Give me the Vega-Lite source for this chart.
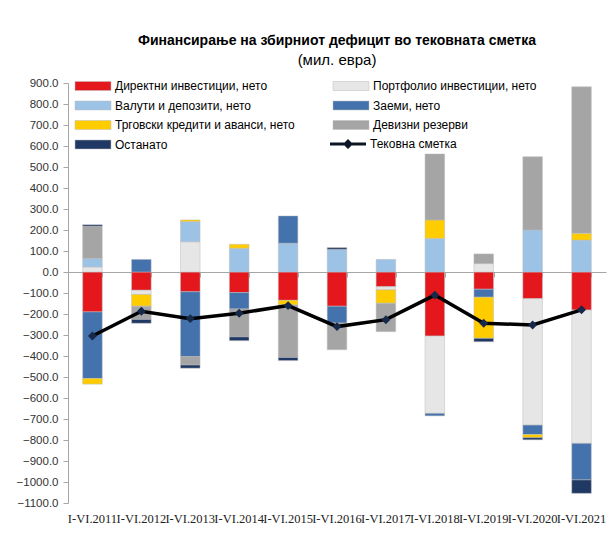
{
  "$schema": "https://vega.github.io/schema/vega-lite/v6.json",
  "width": 538,
  "height": 420,
  "autosize": "none",
  "padding": {"left": 68, "top": 83, "right": 4, "bottom": 53},
  "background": "white",
  "config": {"view": {"stroke": null}, "font": "Liberation Sans"},
  "title": {
    "text": "Финансирање  на збирниот дефицит во тековната сметка",
    "subtitle": "(мил. евра)",
    "anchor": "middle",
    "frame": "group",
    "font": "Liberation Sans",
    "fontSize": 14,
    "fontWeight": "bold",
    "color": "#000000",
    "subtitleFont": "Liberation Sans",
    "subtitleFontSize": 15,
    "subtitleColor": "#000000",
    "subtitlePadding": 5,
    "offset": 9
  },
  "datasets": {
    "fin": [
      {"year": "I-VI.2011", "series": "Директни инвестиции, нето", "value": -190},
      {"year": "I-VI.2011", "series": "Портфолио инвестиции, нето", "value": 24},
      {"year": "I-VI.2011", "series": "Валути и депозити, нето", "value": 40},
      {"year": "I-VI.2011", "series": "Заеми, нето", "value": -317},
      {"year": "I-VI.2011", "series": "Трговски кредити и аванси, нето", "value": -27},
      {"year": "I-VI.2011", "series": "Девизни резерви", "value": 154},
      {"year": "I-VI.2011", "series": "Останато", "value": 7},
      {"year": "I-VI.2012", "series": "Директни инвестиции, нето", "value": -87},
      {"year": "I-VI.2012", "series": "Портфолио инвестиции, нето", "value": -20},
      {"year": "I-VI.2012", "series": "Заеми, нето", "value": 60},
      {"year": "I-VI.2012", "series": "Трговски кредити и аванси, нето", "value": -56},
      {"year": "I-VI.2012", "series": "Девизни резерви", "value": -63},
      {"year": "I-VI.2012", "series": "Останато", "value": -18},
      {"year": "I-VI.2013", "series": "Директни инвестиции, нето", "value": -94},
      {"year": "I-VI.2013", "series": "Портфолио инвестиции, нето", "value": 144},
      {"year": "I-VI.2013", "series": "Валути и депозити, нето", "value": 96},
      {"year": "I-VI.2013", "series": "Заеми, нето", "value": -309},
      {"year": "I-VI.2013", "series": "Трговски кредити и аванси, нето", "value": 8},
      {"year": "I-VI.2013", "series": "Девизни резерви", "value": -40},
      {"year": "I-VI.2013", "series": "Останато", "value": -15},
      {"year": "I-VI.2014", "series": "Директни инвестиции, нето", "value": -98},
      {"year": "I-VI.2014", "series": "Валути и депозити, нето", "value": 113},
      {"year": "I-VI.2014", "series": "Заеми, нето", "value": -78},
      {"year": "I-VI.2014", "series": "Трговски кредити и аванси, нето", "value": 19},
      {"year": "I-VI.2014", "series": "Девизни резерви", "value": -133},
      {"year": "I-VI.2014", "series": "Останато", "value": -18},
      {"year": "I-VI.2015", "series": "Директни инвестиции, нето", "value": -135},
      {"year": "I-VI.2015", "series": "Валути и депозити, нето", "value": 137},
      {"year": "I-VI.2015", "series": "Заеми, нето", "value": 130},
      {"year": "I-VI.2015", "series": "Трговски кредити и аванси, нето", "value": -22},
      {"year": "I-VI.2015", "series": "Девизни резерви", "value": -250},
      {"year": "I-VI.2015", "series": "Останато", "value": -15},
      {"year": "I-VI.2016", "series": "Директни инвестиции, нето", "value": -163},
      {"year": "I-VI.2016", "series": "Валути и депозити, нето", "value": 108},
      {"year": "I-VI.2016", "series": "Заеми, нето", "value": -80},
      {"year": "I-VI.2016", "series": "Девизни резерви", "value": -127},
      {"year": "I-VI.2016", "series": "Останато", "value": 8},
      {"year": "I-VI.2017", "series": "Директни инвестиции, нето", "value": -70},
      {"year": "I-VI.2017", "series": "Портфолио инвестиции, нето", "value": -15},
      {"year": "I-VI.2017", "series": "Валути и депозити, нето", "value": 60},
      {"year": "I-VI.2017", "series": "Трговски кредити и аванси, нето", "value": -64},
      {"year": "I-VI.2017", "series": "Девизни резерви", "value": -135},
      {"year": "I-VI.2018", "series": "Директни инвестиции, нето", "value": -305},
      {"year": "I-VI.2018", "series": "Портфолио инвестиции, нето", "value": -368},
      {"year": "I-VI.2018", "series": "Валути и депозити, нето", "value": 160},
      {"year": "I-VI.2018", "series": "Заеми, нето", "value": -12},
      {"year": "I-VI.2018", "series": "Трговски кредити и аванси, нето", "value": 88},
      {"year": "I-VI.2018", "series": "Девизни резерви", "value": 314},
      {"year": "I-VI.2019", "series": "Директни инвестиции, нето", "value": -82},
      {"year": "I-VI.2019", "series": "Портфолио инвестиции, нето", "value": 40},
      {"year": "I-VI.2019", "series": "Заеми, нето", "value": -38},
      {"year": "I-VI.2019", "series": "Трговски кредити и аванси, нето", "value": -196},
      {"year": "I-VI.2019", "series": "Девизни резерви", "value": 46},
      {"year": "I-VI.2019", "series": "Останато", "value": -16},
      {"year": "I-VI.2020", "series": "Директни инвестиции, нето", "value": -127},
      {"year": "I-VI.2020", "series": "Портфолио инвестиции, нето", "value": -602},
      {"year": "I-VI.2020", "series": "Валути и депозити, нето", "value": 200},
      {"year": "I-VI.2020", "series": "Заеми, нето", "value": -45},
      {"year": "I-VI.2020", "series": "Трговски кредити и аванси, нето", "value": -15},
      {"year": "I-VI.2020", "series": "Девизни резерви", "value": 349},
      {"year": "I-VI.2020", "series": "Останато", "value": -10},
      {"year": "I-VI.2021", "series": "Директни инвестиции, нето", "value": -181},
      {"year": "I-VI.2021", "series": "Портфолио инвестиции, нето", "value": -635},
      {"year": "I-VI.2021", "series": "Валути и депозити, нето", "value": 152},
      {"year": "I-VI.2021", "series": "Заеми, нето", "value": -174},
      {"year": "I-VI.2021", "series": "Трговски кредити и аванси, нето", "value": 32},
      {"year": "I-VI.2021", "series": "Девизни резерви", "value": 698},
      {"year": "I-VI.2021", "series": "Останато", "value": -64}
    ],
    "ca": [
      {"year": "I-VI.2011", "value": -305},
      {"year": "I-VI.2012", "value": -187},
      {"year": "I-VI.2013", "value": -222},
      {"year": "I-VI.2014", "value": -196},
      {"year": "I-VI.2015", "value": -160},
      {"year": "I-VI.2016", "value": -260},
      {"year": "I-VI.2017", "value": -227},
      {"year": "I-VI.2018", "value": -110},
      {"year": "I-VI.2019", "value": -244},
      {"year": "I-VI.2020", "value": -252},
      {"year": "I-VI.2021", "value": -180}
    ]
  },
  "layer": [
    {
      "data": {"name": "fin"},
      "transform": [
        {"calculate": "indexof(['Директни инвестиции, нето', 'Портфолио инвестиции, нето', 'Валути и депозити, нето', 'Заеми, нето', 'Трговски кредити и аванси, нето', 'Девизни резерви', 'Останато'], datum.series)", "as": "ord"}
      ],
      "mark": {"type": "bar", "stroke": "#BDBDBD", "strokeWidth": 0.5},
      "encoding": {
        "x": {
          "field": "year", "type": "nominal",
          "scale": {"paddingInner": 0.6, "paddingOuter": 0.3},
          "axis": {"orient": "bottom", "domain": false, "ticks": false, "labelAngle": 0,
                   "labelFont": "Liberation Serif", "labelFontSize": 12.5, "labelColor": "#222222",
                   "labelPadding": 9, "title": null, "grid": false}
        },
        "y": {
          "field": "value", "type": "quantitative", "stack": "zero",
          "scale": {"domain": [-1100, 900], "nice": false, "zero": false},
          "axis": {"values": [-1100,-1000,-900,-800,-700,-600,-500,-400,-300,-200,-100,0,100,200,300,400,500,600,700,800,900],
                   "format": ".1f", "grid": false, "title": null, "domainColor": "#A6A6A6", "tickColor": "#A6A6A6",
                   "tickSize": 5, "labelFontSize": 11.5, "labelColor": "#333333", "labelPadding": 5, "labelOverlap": false, "labelSeparation": 0}
        },
        "order": {"field": "ord", "type": "quantitative", "sort": "ascending"},
        "color": {
          "field": "series", "type": "nominal",
          "scale": {
            "domain": ["Директни инвестиции, нето", "Валути и депозити, нето", "Трговски кредити и аванси, нето", "Останато", "Портфолио инвестиции, нето", "Заеми, нето", "Девизни резерви"],
            "range": ["#E3171C", "#9CC2E5", "#FFCC00", "#203864", "#E6E6E6", "#4472AC", "#A5A5A5"]
          },
          "legend": {
            "orient": "none", "legendX": 6, "legendY": -3, "columns": 2, "title": null,
            "padding": 0, "symbolSize": 100, "symbolType": "M-1,-0.9H6.2V0.9H-1Z",
            "symbolStrokeColor": "#BDBDBD", "symbolStrokeWidth": 0.5,
            "labelOffset": 29, "labelFontSize": 12, "labelColor": "#000000",
            "labelLimit": 0, "rowPadding": 7.5, "columnPadding": 37, "symbolOpacity": 1
          }
        }
      }
    },
    {
      "data": {"name": "ca"},
      "mark": {"type": "line", "color": "#000000", "strokeWidth": 3.5},
      "encoding": {
        "x": {
          "field": "year", "type": "nominal",
          "axis": {"orient": "bottom", "offset": -231, "labels": false, "ticks": true, "tickBand": "extent",
                   "tickSize": 5, "domainColor": "#A6A6A6", "tickColor": "#A6A6A6", "title": null, "grid": false}
        },
        "y": {"field": "value", "type": "quantitative",
              "axis": {"values": [-1100,-1000,-900,-800,-700,-600,-500,-400,-300,-200,-100,0,100,200,300,400,500,600,700,800,900],
                   "format": ".1f", "grid": false, "title": null, "domainColor": "#A6A6A6", "tickColor": "#A6A6A6",
                   "tickSize": 5, "labelFontSize": 11.5, "labelColor": "#333333", "labelPadding": 5, "labelOverlap": false, "labelSeparation": 0}}
      }
    },
    {
      "data": {"name": "ca"},
      "mark": {"type": "point", "shape": "diamond", "filled": true, "size": 80, "color": "#17294A", "opacity": 1},
      "encoding": {
        "x": {"field": "year", "type": "nominal", "axis": null},
        "y": {"field": "value", "type": "quantitative",
              "axis": {"values": [-1100,-1000,-900,-800,-700,-600,-500,-400,-300,-200,-100,0,100,200,300,400,500,600,700,800,900],
                   "format": ".1f", "grid": false, "title": null, "domainColor": "#A6A6A6", "tickColor": "#A6A6A6",
                   "tickSize": 5, "labelFontSize": 11.5, "labelColor": "#333333", "labelPadding": 5, "labelOverlap": false, "labelSeparation": 0}}
      }
    },
    {
      "data": {"name": "ca"},
      "transform": [{"filter": "datum.value > 100000"}],
      "mark": {"type": "point", "filled": true, "size": 100, "color": "#0D1626", "opacity": 1},
      "encoding": {
        "x": {"field": "year", "type": "nominal", "axis": null},
        "y": {"field": "value", "type": "quantitative",
              "axis": {"values": [-1100,-1000,-900,-800,-700,-600,-500,-400,-300,-200,-100,0,100,200,300,400,500,600,700,800,900],
                   "format": ".1f", "grid": false, "title": null, "domainColor": "#A6A6A6", "tickColor": "#A6A6A6",
                   "tickSize": 5, "labelFontSize": 11.5, "labelColor": "#333333", "labelPadding": 5, "labelOverlap": false, "labelSeparation": 0}},
        "shape": {
          "datum": "Тековна сметка",
          "scale": {"domain": ["Тековна сметка"], "range": ["M-3.6,-0.28H3.6V0.28H-3.6Z M0,-1L1,0L0,1L-1,0Z"]},
          "legend": {
            "orient": "none", "legendX": 274, "legendY": 55, "title": null, "padding": 0,
            "symbolSize": 100, "symbolOpacity": 1, "labelOffset": 16, "labelFontSize": 12,
            "labelColor": "#000000", "labelLimit": 0
          }
        }
      }
    }
  ],
  "resolve": {"axis": {"x": "independent"}}
}
